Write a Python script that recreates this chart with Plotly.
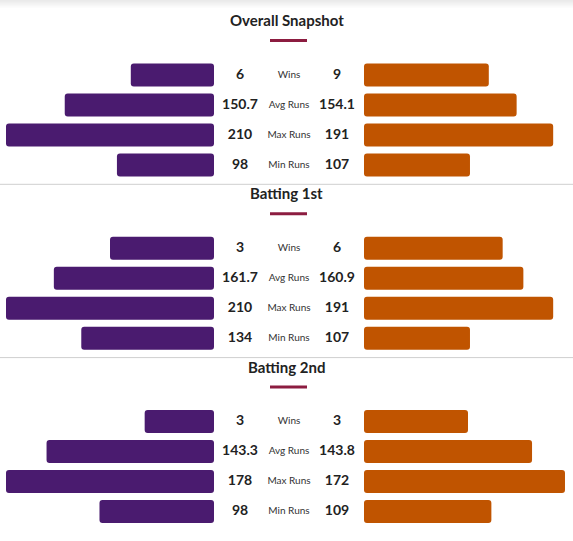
import plotly.graph_objects as go

# data
sections = ["Overall Snapshot", "Batting 1st", "Batting 2nd"]
metrics = ["Wins", "Avg Runs", "Max Runs", "Min Runs"]
left_vals = [[6, 150.7, 210, 98], [3, 161.7, 210, 134], [3, 143.3, 178, 98]]
right_vals = [[9, 154.1, 191, 107], [6, 160.9, 191, 107], [3, 143.8, 172, 109]]
# matches played in each situation (wins bar = win share)
left_matches = [15, 6, 9]
right_matches = [15, 9, 6]

PURPLE = "#4a1b6f"
ORANGE = "#c05400"
W, H = 573, 541
CENTER, GAP, FULL = 289, 75, 208
PITCH = 173.3
FONT = "Lato"

gap = GAP / FULL
x_lo = (0 - CENTER) / FULL
x_hi = (W - CENTER) / FULL


def fmt(v):
    return f"{v:g}"


fig = go.Figure()
shapes = []
annotations = []

for s, title in enumerate(sections):
    top = s * PITCH
    ys = [top + 75 + i * 30 for i in range(len(metrics))]
    run_max = max(left_vals[s][1:] + right_vals[s][1:])
    left_len = [left_vals[s][0] / left_matches[s]] + [v / run_max for v in left_vals[s][1:]]
    right_len = [right_vals[s][0] / right_matches[s]] + [v / run_max for v in right_vals[s][1:]]

    fig.add_trace(go.Bar(orientation="h", y=ys, x=[-v for v in left_len], base=-gap,
                         width=23, marker=dict(color=PURPLE, cornerradius=3, line_width=0),
                         hoverinfo="skip", showlegend=False))
    fig.add_trace(go.Bar(orientation="h", y=ys, x=right_len, base=gap,
                         width=23, marker=dict(color=ORANGE, cornerradius=3, line_width=0),
                         hoverinfo="skip", showlegend=False))

    # numbers and labels
    fig.add_trace(go.Scatter(x=[-49 / FULL] * 4, y=ys, mode="text",
                             text=[fmt(v) for v in left_vals[s]],
                             textfont=dict(family=FONT, size=14, color="#222222", weight="bold"),
                             hoverinfo="skip", showlegend=False))
    fig.add_trace(go.Scatter(x=[48 / FULL] * 4, y=ys, mode="text",
                             text=[fmt(v) for v in right_vals[s]],
                             textfont=dict(family=FONT, size=14, color="#222222", weight="bold"),
                             hoverinfo="skip", showlegend=False))
    fig.add_trace(go.Scatter(x=[0] * 4, y=ys, mode="text", text=metrics,
                             textfont=dict(family=FONT, size=10, color="#333333"),
                             hoverinfo="skip", showlegend=False))

    annotations.append(dict(x=0.5, xref="paper", y=top + 20, yref="y", text=f"<b>{title}</b>",
                            showarrow=False, font=dict(family=FONT, size=15, color="#222222")))
    shapes.append(dict(type="line", xref="x", yref="y", x0=(270 - CENTER) / FULL,
                       x1=(307 - CENTER) / FULL, y0=top + 40.5, y1=top + 40.5,
                       line=dict(color="#8c1c40", width=3)))
    if s > 0:
        shapes.append(dict(type="line", xref="paper", yref="y", x0=0, x1=1,
                           y0=top + 11, y1=top + 11, line=dict(color="#cfcfcf", width=1)))

# faint shadow along the top edge
for k in range(8):
    shapes.append(dict(type="rect", xref="paper", yref="y", x0=0, x1=1, y0=k, y1=k + 1,
                       fillcolor="#d8d8d8", opacity=0.55 * (1 - k / 8), line_width=0,
                       layer="below"))

fig.update_layout(
    width=W, height=H,
    margin=dict(l=0, r=0, t=0, b=0),
    paper_bgcolor="white", plot_bgcolor="white",
    barmode="overlay",
    xaxis=dict(range=[x_lo, x_hi], visible=False, fixedrange=True),
    yaxis=dict(range=[H, 0], visible=False, fixedrange=True),
    shapes=shapes, annotations=annotations,
    showlegend=False,
)

fig.write_html("out.html", config={"displayModeBar": False},
               post_script="document.body.style.margin='0';")
